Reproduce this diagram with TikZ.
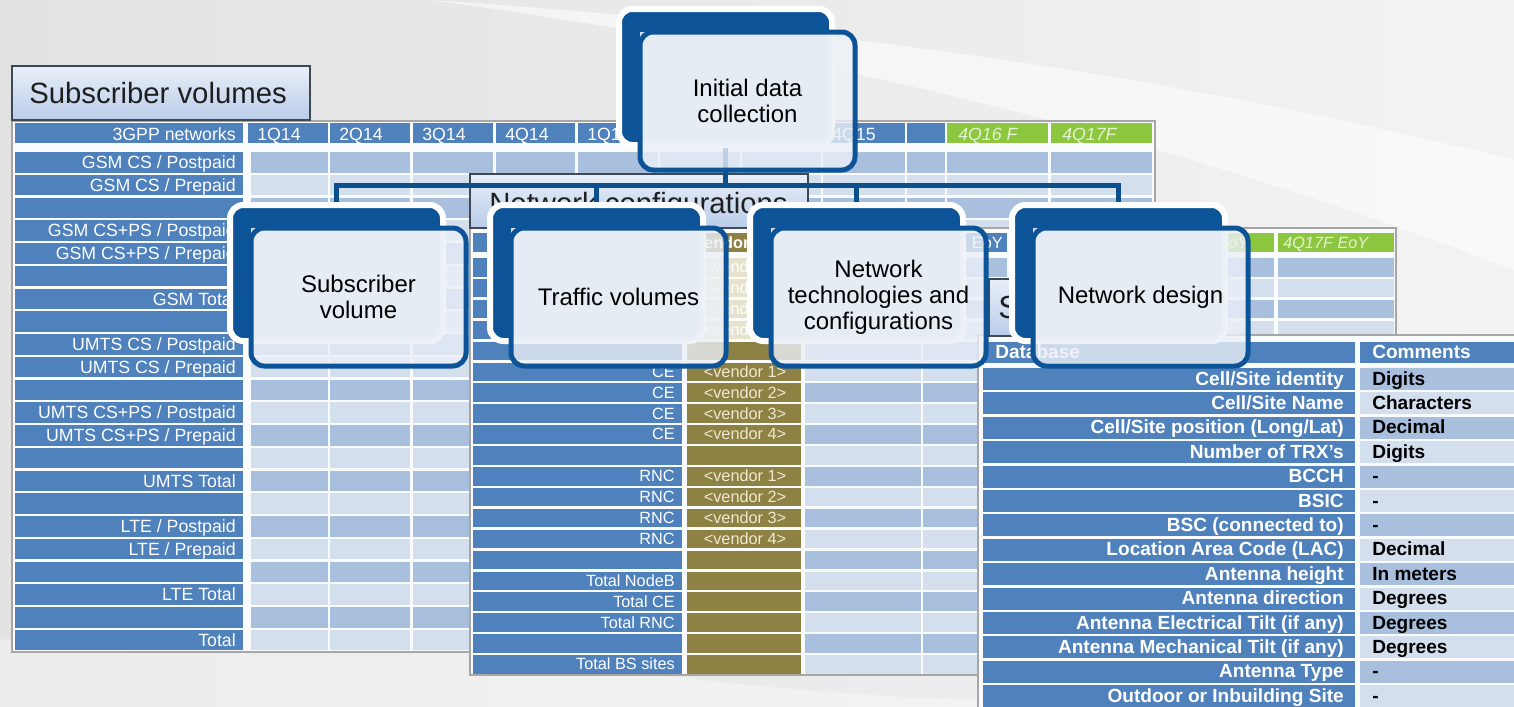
\documentclass[tikz,border=0pt]{standalone}
\usepackage{fontspec}
\setmainfont{Liberation Sans}
\usetikzlibrary{calc}
\definecolor{lblue}{HTML}{4F81BD}
\definecolor{dcell}{HTML}{A8BFDE}
\definecolor{lcell}{HTML}{D4DFEE}
\definecolor{olive}{HTML}{8E8144}
\definecolor{cream}{HTML}{E7E2CB}
\definecolor{greenc}{HTML}{8DC63F}
\definecolor{greentxt}{HTML}{E4F3D2}
\definecolor{vtxt}{HTML}{EFE9D2}
\definecolor{boxblue}{HTML}{0C5497}
\definecolor{connblue}{HTML}{0B4F8C}
\definecolor{frontc}{HTML}{EBF0F7}
\definecolor{ttltop}{HTML}{E9EFF8}
\definecolor{ttlbot}{HTML}{B9CCE9}
\definecolor{ttlborder}{HTML}{3E4954}
\definecolor{framec}{HTML}{A6A6A6}
\definecolor{panelc}{HTML}{FAFBFD}
\definecolor{bgL}{HTML}{E2E2E2}
\definecolor{bgR}{HTML}{F3F3F3}
\pgfdeclarelayer{tables}
\pgfdeclarelayer{conns}
\pgfsetlayers{tables,conns,main}
\tikzset{
  slbl/.style={anchor=base east, text=white, font=\fontsize{13.3}{14}\selectfont, inner sep=0pt},
  shdr/.style={anchor=base west, text=white, font=\fontsize{13.3}{14}\selectfont, inner sep=0pt},
  sgrn/.style={anchor=base west, text=greentxt, font=\fontsize{13.3}{14}\selectfont\itshape, inner sep=0pt},
  mlbl/.style={anchor=base east, text=white, font=\fontsize{12.2}{13}\selectfont, inner sep=0pt},
  mhdr/.style={anchor=base west, text=white, font=\fontsize{12.2}{13}\selectfont\bfseries, inner sep=0pt},
  mgrn/.style={anchor=base west, text=greentxt, font=\fontsize{12.2}{13}\selectfont\itshape, inner sep=0pt},
  vlbl/.style={anchor=base, text=vtxt, font=\fontsize{12.2}{13}\selectfont, inner sep=0pt},
  rlbl/.style={anchor=base east, text=white, font=\fontsize{14.3}{15}\selectfont\bfseries, inner sep=0pt},
  rhdr/.style={anchor=base west, text=white, font=\fontsize{14.3}{15}\selectfont\bfseries, inner sep=0pt},
  rcom/.style={anchor=base west, text=black, font=\fontsize{14.3}{15}\selectfont\bfseries, inner sep=0pt},
  ttl/.style={anchor=base west, text=black!88, font=\fontsize{22}{24}\selectfont, inner sep=0pt},
  titlebox/.style={draw=ttlborder, line width=1.2pt, top color=ttltop, bottom color=ttlbot},
  panel/.style={fill=panelc, draw=framec, line width=0.8pt},
  backbox/.style={rectangle, draw=white, fill=boxblue, line width=4.5pt, rounded corners=10pt,
    minimum width=159.75pt, minimum height=102pt, inner sep=0pt, outer sep=0pt, anchor=north west},
  frontline/.style={draw=boxblue, line width=3.75pt, rounded corners=10pt},
  boxtext/.style={align=center, font=\fontsize{18}{19.5}\selectfont, text=black, inner sep=0pt},
  conn/.style={draw=connblue, line width=3.75pt}
}
\newcommand\slab[2]{\node[slbl] (sl#1) at (236,{152+#1*22.76+16.5}) {#2};}
\newcommand\mlab[2]{\node[mlbl] (ml#1) at (675,{258+#1*20.9+14.7}) {#2};}
\newcommand\mven[3]{\node[vlbl,#3] (mv#1) at (745,{258+#1*20.9+14.7}) {<vendor #2>};}
\newcommand\rrow[3]{\node[rlbl] (rl#1) at (1344,{368+#1*24.4+17}) {#2};
  \node[rcom] (rc#1) at (1372,{368+#1*24.4+17}) {#3};}
\newcommand\twobox[4]{%
  \node[backbox] (#1B) at (#2,#3) {};
  \fill[frontc, fill opacity=0.8, rounded corners=10pt] ({#2+21},{#3+23}) rectangle ({#2+236},{#3+161});
  \begin{scope}
    \clip[rounded corners=10pt] (#2,#3) rectangle ({#2+213},{#3+136});
    \fill[frontc, fill opacity=0.88] ({#2+21},{#3+23}) rectangle ({#2+236},{#3+161});
  \end{scope}
  \draw[frontline] ({#2+21},{#3+23}) rectangle ({#2+236},{#3+161});
  \node[boxtext] (#1T) at ({#2+128.5},{#3+92}) {#4};
}
\def\scols{251/328,330/410,413/493,496/575,578/658,660/740,742/821,823/905,907/945,947/1048,1051/1152}
\def\mcols{805/921,923/1007,1010/1155,1158/1274,1278/1394}
\begin{document}
\begin{tikzpicture}[x=0.75pt,y=-0.75pt]
\useasboundingbox (0,0) rectangle (1514,707);
\begin{pgfonlayer}{tables}
% background
\shade[left color=bgL, right color=bgR] (0,0) rectangle (1514,707);
\fill[white, opacity=0.55] (430,0) .. controls (800,25) and (1150,70) .. (1514,160) -- (1514,270) .. controls (1150,130) and (800,50) .. (430,0) -- cycle;
\fill[white, opacity=0.35] (0,640) .. controls (300,600) and (600,690) .. (980,700) -- (980,707) -- (0,707) -- cycle;
% ---------- Subscriber volumes table ----------
\draw[panel] (12,121) rectangle (1155,652);
\draw[titlebox] (12,66) rectangle (310,120);
\node[ttl] (subttl) at (29,103) {Subscriber volumes};
\fill[lblue] (15,123) rectangle (243,143);
\node[slbl] (shd) at (236,140) {3GPP networks};
\foreach \a/\b/\t in {248/328/1Q14,330/410/2Q14,413/493/3Q14,496/575/4Q14,578/658/1Q15,660/740/2Q15,742/821/3Q15,823/905/4Q15}{
  \fill[lblue] (\a,123) rectangle (\b,143);
  \node[shdr] (sh\t) at (\a+9,140) {\t};
}
\fill[lblue] (907,123) rectangle (945,143);
\fill[greenc] (947,123) rectangle (1048,143);
\fill[greenc] (1051,123) rectangle (1152,143);
\node[sgrn] (sh16) at (958,140) {4Q16 F};
\node[sgrn] (sh17) at (1062,140) {4Q17F};
\foreach \i in {0,...,21}{
  \pgfmathsetmacro\yt{152+\i*22.76}
  \pgfmathsetmacro\yb{\yt+20.5}
  \pgfmathtruncatemacro\od{mod(\i,2)}
  \ifnum\od=0 \def\cc{dcell}\else\def\cc{lcell}\fi
  \fill[lblue] (15,\yt) rectangle (243,\yb);
  \foreach \a/\b in \scols {\fill[\cc] (\a,\yt) rectangle (\b,\yb);}
}
\slab{0}{GSM CS / Postpaid}
\slab{1}{GSM CS / Prepaid}
\slab{3}{GSM CS+PS / Postpaid}
\slab{4}{GSM CS+PS / Prepaid}
\slab{6}{GSM Total}
\slab{8}{UMTS CS / Postpaid}
\slab{9}{UMTS CS / Prepaid}
\slab{11}{UMTS CS+PS / Postpaid}
\slab{12}{UMTS CS+PS / Prepaid}
\slab{14}{UMTS Total}
\slab{16}{LTE / Postpaid}
\slab{17}{LTE / Prepaid}
\slab{19}{LTE Total}
\slab{21}{Total}
% ---------- Network configurations table ----------
\draw[panel] (470,228) rectangle (1396,675);
\draw[titlebox] (470,174) rectangle (808,228);
\node[ttl] (netttl) at (489,213) {Network configurations};
\fill[lblue] (473,233) rectangle (682,252);
\fill[olive] (687,233) rectangle (801,252);
\node[mhdr] (mvh) at (694,248) {Vendor};
\fill[lblue] (805,233) rectangle (921,252);
\fill[lblue] (923,233) rectangle (1007,252);
\node[mhdr, anchor=base east, font=\fontsize{12.2}{13}\selectfont] (mh2) at (1003,248) {EoY};
\fill[lblue] (1010,233) rectangle (1155,252);
\fill[greenc] (1158,233) rectangle (1274,252);
\fill[greenc] (1278,233) rectangle (1394,252);
\node[mgrn] (mh4) at (1163,248) {4Q16F EoY};
\node[mgrn] (mh5) at (1283,248) {4Q17F EoY};
\foreach \i in {0,...,19}{
  \pgfmathsetmacro\yt{258+\i*20.9}
  \pgfmathsetmacro\yb{\yt+18.5}
  \pgfmathtruncatemacro\od{mod(\i,2)}
  \ifnum\od=0 \def\cc{dcell}\else\def\cc{lcell}\fi
  \ifnum\i<4 \def\vc{cream}\else\def\vc{olive}\fi
  \fill[lblue] (473,\yt) rectangle (682,\yb);
  \fill[\vc] (687,\yt) rectangle (801,\yb);
  \foreach \a/\b in \mcols {\fill[\cc] (\a,\yt) rectangle (\b,\yb);}
}
\mven{0}{1}{text=white}
\mven{1}{2}{text=white}
\mven{2}{3}{text=white}
\mven{3}{4}{text=white}
\mlab{5}{CE}\mven{5}{1}{}
\mlab{6}{CE}\mven{6}{2}{}
\mlab{7}{CE}\mven{7}{3}{}
\mlab{8}{CE}\mven{8}{4}{}
\mlab{10}{RNC}\mven{10}{1}{}
\mlab{11}{RNC}\mven{11}{2}{}
\mlab{12}{RNC}\mven{12}{3}{}
\mlab{13}{RNC}\mven{13}{4}{}
\mlab{15}{Total NodeB}
\mlab{16}{Total CE}
\mlab{17}{Total RNC}
\mlab{19}{Total BS sites}
% ---------- Site database table ----------
\fill[panelc] (978,335) rectangle (1520,720);
\draw[framec, line width=0.8pt] (978,720) -- (978,335) -- (1520,335);
\draw[titlebox] (989,279) rectangle (1215,336);
\node[ttl, font=\fontsize{24}{26}\selectfont] (sttl) at (998,318) {S};
\fill[lblue] (983,342) rectangle (1355,363);
\node[rhdr] (rdb) at (995,358) {Database};
\fill[lblue] (1360,342) rectangle (1520,363);
\node[rhdr] (rcm) at (1372,358) {Comments};
\foreach \i in {0,...,13}{
  \pgfmathsetmacro\yt{368+\i*24.4}
  \pgfmathsetmacro\yb{\yt+22}
  \pgfmathtruncatemacro\od{mod(\i,2)}
  \ifnum\od=0 \def\cc{dcell}\else\def\cc{lcell}\fi
  \fill[lblue] (983,\yt) rectangle (1355,\yb);
  \fill[\cc] (1360,\yt) rectangle (1520,\yb);
}
\rrow{0}{Cell/Site identity}{Digits}
\rrow{1}{Cell/Site Name}{Characters}
\rrow{2}{Cell/Site position (Long/Lat)}{Decimal}
\rrow{3}{Number of TRX’s}{Digits}
\rrow{4}{BCCH}{-}
\rrow{5}{BSIC}{-}
\rrow{6}{BSC (connected to)}{-}
\rrow{7}{Location Area Code (LAC)}{Decimal}
\rrow{8}{Antenna height}{In meters}
\rrow{9}{Antenna direction}{Degrees}
\rrow{10}{Antenna Electrical Tilt (if any)}{Degrees}
\rrow{11}{Antenna Mechanical Tilt (if any)}{Degrees}
\rrow{12}{Antenna Type}{-}
\rrow{13}{Outdoor or Inbuilding Site}{-}
\end{pgfonlayer}
% ---------- hierarchy boxes ----------
\twobox{root}{619}{9}{Initial data\\collection}
\twobox{sub}{230}{205}{Subscriber\\volume}
\twobox{traf}{490}{205}{Traffic volumes}
\twobox{tech}{750}{205}{Network\\technologies and\\configurations}
\twobox{design}{1012}{205}{Network design}
% ---------- connectors ----------
\coordinate (bus) at (0,185);
\begin{pgfonlayer}{conns}
\draw[conn] (rootB.south) -- (rootB.south |- bus);
\draw[conn] (subB.north) -- (subB.north |- bus) -- (designB.north |- bus) -- (designB.north);
\draw[conn] (trafB.north) -- (trafB.north |- bus);
\draw[conn] (techB.north) -- (techB.north |- bus);
\end{pgfonlayer}
\end{tikzpicture}
\end{document}
